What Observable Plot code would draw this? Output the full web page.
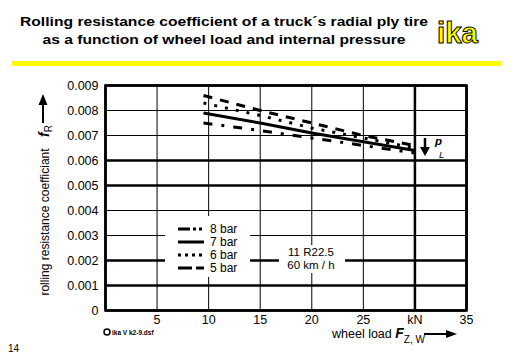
<!DOCTYPE html>
<html><head><meta charset="utf-8">
<script src="https://cdn.jsdelivr.net/npm/d3@7"></script>
<script src="https://cdn.jsdelivr.net/npm/@observablehq/plot@0.6"></script>
<style>
html,body{margin:0;padding:0;background:#fff;}
#wrap{position:relative;width:512px;height:354px;overflow:hidden;font-family:"Liberation Sans",Arial,sans-serif;}
#wrap svg{position:absolute;left:0;top:0;}
</style></head><body><div id="wrap"></div>
<script>
// ---- data ----
const loads = [9.5, 15, 20, 25, 30];
const bar5 = [0.0086, 0.0080, 0.0075, 0.0070, 0.0066];
const bar6 = [0.0083, 0.0078, 0.0073, 0.0069, 0.0065];
const bar7 = [0.0079, 0.0075, 0.0071, 0.00675, 0.0064];
const bar8 = [0.0075, 0.0072, 0.0069, 0.0066, 0.0063];
const seriesNames = ["8 bar", "7 bar", "6 bar", "5 bar"];
const xTicks = [0, 5, 10, 15, 20, 25, 30, 35];
const xTickLabels = ["", "5", "10", "15", "20", "25", "kN", "35"];
const yTicks = [0, 0.001, 0.002, 0.003, 0.004, 0.005, 0.006, 0.007, 0.008, 0.009];
const yTickLabels = ["0", "0.001", "0.002", "0.003", "0.004", "0.005", "0.006", "0.007", "0.008", "0.009"];
const titleLines = ["Rolling resistance coefficient of a truck\u00b4s radial ply tire", "as a function of wheel load and internal pressure"];
const tireInfo = ["11 R22.5", "60 km / h"];

// ---- styles ----
const FONT = '"Liberation Sans", Arial, sans-serif';
const dashes = {"8 bar": "9,9,3,9", "7 bar": null, "6 bar": "3,8", "5 bar": "9,8"};
const legendDashes = {"8 bar": "12,3,3,3,3", "7 bar": null, "6 bar": "3,4", "5 bar": "14,4"};
const heavyY = new Set([0, 0.001, 0.002, 0.005, 0.006, 0.009]);
const heavyX = new Set([0, 30, 35]);

const seriesValues = {"5 bar": bar5, "6 bar": bar6, "7 bar": bar7, "8 bar": bar8};
const rows = seriesNames.flatMap(name => loads.map((x, i) => ({name, x, y: seriesValues[name][i]})));

const chart = Plot.plot({
  width: 512, height: 354,
  marginLeft: 105, marginRight: 46, marginTop: 85, marginBottom: 44,
  style: {fontFamily: FONT, fontSize: "12.5px", color: "#000", background: "transparent"},
  x: {domain: [0, 35]},
  y: {domain: [0, 0.009]},
  marks: [
    Plot.ruleY(yTicks, {stroke: "#000", strokeWidth: d => heavyY.has(d) ? 2.5 : 1}),
    Plot.ruleX(xTicks, {stroke: "#000", strokeWidth: d => heavyX.has(d) ? 2.5 : 1}),
    Plot.frame({stroke: "#000", strokeWidth: 2.5}),
    ...seriesNames.map(name => Plot.line(rows.filter(r => r.name === name), {
      x: "x", y: "y", stroke: "#000", strokeWidth: 3,
      strokeDasharray: dashes[name] || undefined, strokeLinecap: "butt"
    })),
    Plot.axisX({ticks: xTicks, tickSize: 0, tickPadding: 5, label: null,
      tickFormat: d => xTickLabels[xTicks.indexOf(d)]}),
    Plot.axisY({ticks: yTicks, tickSize: 0, tickPadding: 7, label: null,
      tickFormat: d => yTickLabels[yTicks.indexOf(d)]})
  ]
});
const wrap = document.getElementById("wrap");
wrap.append(chart);

// ---- annotations overlay ----
const svg = d3.select(wrap).append("svg").attr("width", 512).attr("height", 354)
  .style("font-family", FONT);

// title
const tl = [[26, 408], [44, 363]];
titleLines.forEach((t, i) => svg.append("text").attr("x", 224).attr("y", tl[i][0])
  .attr("text-anchor", "middle").attr("font-weight", "bold").attr("font-size", 13.5)
  .attr("textLength", tl[i][1]).attr("lengthAdjust", "spacingAndGlyphs").text(t));
// ika logo
svg.append("text").attr("x", 437).attr("y", 43).attr("font-size", 29).attr("font-weight", "bold")
  .attr("fill", "#ffff00").attr("stroke", "#000").attr("stroke-width", 1)
  .attr("textLength", 41).attr("lengthAdjust", "spacingAndGlyphs").text("ika");
// yellow rule
svg.append("rect").attr("x", 12).attr("y", 61).attr("width", 490).attr("height", 5).attr("fill", "#ffff00");

// y label
svg.append("text").attr("transform", "translate(49,222) rotate(-90)").attr("text-anchor", "middle")
  .attr("font-size", 12).text("rolling resistance coefficiant");
const fr = svg.append("text").attr("transform", "translate(49,131) rotate(-90)").attr("text-anchor", "middle");
fr.append("tspan").attr("font-weight", "bold").attr("font-style", "italic").attr("font-size", 14).text("f");
fr.append("tspan").attr("font-size", 10).attr("dy", 3).text("R");
svg.append("line").attr("x1", 43).attr("x2", 43).attr("y1", 123).attr("y2", 103).attr("stroke", "#000").attr("stroke-width", 2);
svg.append("path").attr("d", "M43,94 L38.5,105 L47.5,105 Z").attr("fill", "#000");

// x label
const xl = svg.append("text").attr("x", 332).attr("y", 338).attr("font-size", 12.5);
xl.append("tspan").text("wheel load ");
xl.append("tspan").attr("font-weight", "bold").attr("font-style", "italic").attr("font-size", 14).text("F");
xl.append("tspan").attr("font-size", 10).attr("dy", 5).text("Z, W");
svg.append("line").attr("x1", 424).attr("x2", 448).attr("y1", 334).attr("y2", 334).attr("stroke", "#000").attr("stroke-width", 2);
svg.append("path").attr("d", "M457,334 L446,330 L446,338 Z").attr("fill", "#000");

// p_L annotation
svg.append("line").attr("x1", 425).attr("x2", 425).attr("y1", 138).attr("y2", 148).attr("stroke", "#000").attr("stroke-width", 2.5);
svg.append("path").attr("d", "M425,156 L420,147 L430,147 Z").attr("fill", "#000");
svg.append("text").attr("x", 435).attr("y", 145).attr("font-size", 11.5).attr("font-style", "italic").attr("font-weight", "bold").text("p");
svg.append("text").attr("x", 439).attr("y", 157.5).attr("font-size", 9.5).attr("font-style", "italic").text("L");

// legend box
svg.append("rect").attr("x", 165).attr("y", 216).attr("width", 85).attr("height", 61).attr("fill", "#fff");
const legY = [229, 242, 255, 268];
seriesNames.forEach((name, i) => {
  svg.append("line").attr("x1", 178).attr("x2", 204).attr("y1", legY[i]).attr("y2", legY[i])
    .attr("stroke", "#000").attr("stroke-width", 3)
    .attr("stroke-dasharray", legendDashes[name]);
  svg.append("text").attr("x", 210).attr("y", legY[i] + 4).attr("font-size", 12).text(name);
});
// tire info box
svg.append("rect").attr("x", 279).attr("y", 245).attr("width", 66).attr("height", 28).attr("fill", "#fff");
tireInfo.forEach((t, i) => svg.append("text").attr("x", 311).attr("y", 255.5 + 13 * i)
  .attr("text-anchor", "middle").attr("font-size", 11.5).text(t));

// footer
svg.append("text").attr("x", 8).attr("y", 352).attr("font-size", 10).text("14");
svg.append("circle").attr("cx", 107).attr("cy", 332).attr("r", 3).attr("fill", "none").attr("stroke", "#000").attr("stroke-width", 1.5);
svg.append("text").attr("x", 112).attr("y", 334.5).attr("font-size", 6.5).attr("font-weight", "bold").text("ika V k2-9.dsf");
</script></body></html>
